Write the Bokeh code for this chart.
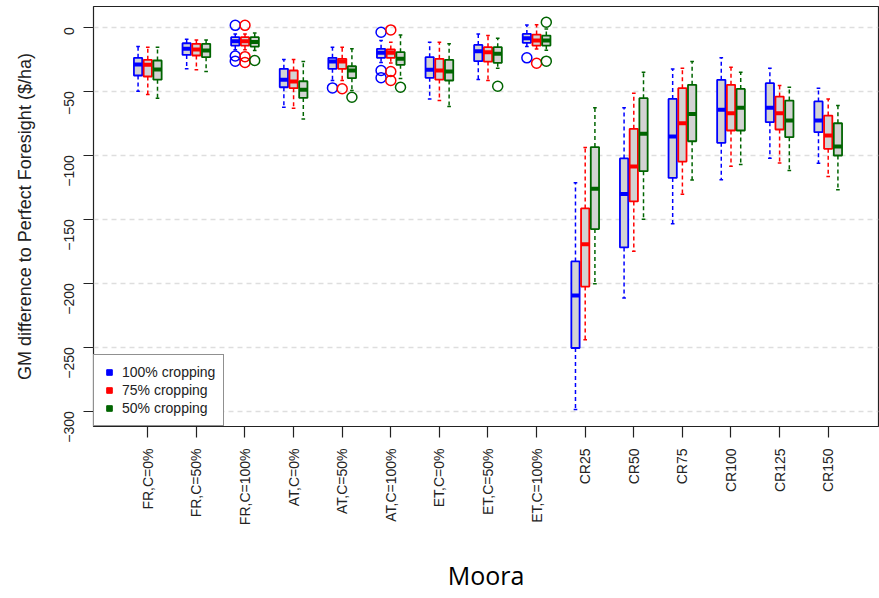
import math
from bokeh.plotting import figure
from bokeh.models import FixedTicker, Legend, LegendItem, ColumnDataSource, Range1d
from bokeh.embed import file_html
from bokeh.resources import INLINE

groups = ["FR,C=0%", "FR,C=50%", "FR,C=100%", "AT,C=0%", "AT,C=50%", "AT,C=100%",
          "ET,C=0%", "ET,C=50%", "ET,C=100%", "CR25", "CR50", "CR75", "CR100", "CR125", "CR150"]

series_labels = ["100% cropping", "75% cropping", "50% cropping"]
series_colors = ["#0000FF", "#FF0000", "#006400"]

# 100% cropping
blue_hi = [-15.1, -9.4, -5.2, -25.2, -15.6, -10.4, -11.7, -5.2, 1.8, -121.5, -63, -32.6, -23.9, -32, -47.6]
blue_q3 = [-23.9, -12.5, -7.8, -32.5, -23.9, -16.9, -23.4, -13.8, -5.2, -183, -102.5, -56, -41.1, -43.7, -58]
blue_med = [-29.1, -16.9, -10.9, -41.1, -26.8, -20, -33.3, -18.7, -8.6, -209.6, -130.3, -85.4, -64.5, -63, -72.9]
blue_q1 = [-37.7, -21.6, -14.3, -46.9, -32.5, -23.9, -39.5, -26.5, -12.2, -250.6, -172, -117.7, -90.3, -74.2, -82]
blue_lo = [-50, -32.5, -17.5, -62.5, -41.6, -27.5, -56, -40.9, -15, -298.7, -211.5, -153.6, -119.2, -102.3, -106.2]
blue_out_group = [3, 3, 3, 5, 6, 6, 6, 9]
blue_out_value = [1.5, -22.5, -26.5, -47.4, -3.9, -33.8, -39.5, -23.9]

# 75% cropping
red_hi = [-15.6, -9.9, -5.2, -25.2, -15.6, -11.7, -11.7, -6.5, 2, -94, -51.5, -32, -31.2, -45.6, -56]
red_q3 = [-25.5, -13, -7.8, -33.8, -24.7, -17.4, -24.7, -15.6, -5.7, -141.6, -79.4, -47.6, -45, -54.2, -69]
red_med = [-29.4, -17.4, -10.9, -42.4, -26.8, -20, -33.8, -19.5, -10.4, -169.6, -108.8, -75, -67.2, -67.2, -84.6]
red_q1 = [-38.5, -22.1, -14.3, -47.6, -32.5, -23.9, -40.9, -26.8, -14.3, -202.6, -136.1, -105, -80.7, -79.9, -95]
red_lo = [-52.6, -33.3, -17.5, -63.3, -41.6, -28, -57.3, -41.6, -17, -244.2, -175, -130.5, -108.6, -106, -116.6]
red_out_group = [3, 3, 3, 5, 6, 6, 6, 9]
red_out_value = [1.5, -23, -27.5, -48.1, -2.1, -34.6, -41.6, -28.1]

# 50% cropping
green_hi = [-15.6, -9.9, -4.5, -26.8, -16.9, -6, -13, -8.6, -1.3, -63, -35.1, -26.8, -35.1, -46.9, -61.2]
green_q3 = [-26, -13, -7.8, -42.2, -30.5, -19.5, -25.5, -15.6, -6.5, -93.6, -55.4, -45, -48.2, -57.3, -75]
green_med = [-33, -18.2, -11.5, -48.9, -33.8, -24.7, -34.6, -20.8, -10.4, -126.2, -83.3, -67.7, -63, -72.9, -93.2]
green_q1 = [-41, -23.4, -15.1, -55.2, -39.8, -29.4, -41.6, -27.8, -14.3, -157.7, -112.5, -89.1, -80.7, -85.9, -100.2]
green_lo = [-55.5, -34.6, -18.2, -71.6, -49.5, -40, -62, -32, -18, -200.5, -150, -119.3, -107.3, -112, -127]
green_out_group = [3, 5, 6, 8, 9, 9]
green_out_value = [-26, -54.7, -46.9, -46.1, 3.9, -26.5]

y_ticks = [0, -50, -100, -150, -200, -250, -300]

series = [
    (blue_lo, blue_q1, blue_med, blue_q3, blue_hi, blue_out_group, blue_out_value),
    (red_lo, red_q1, red_med, red_q3, red_hi, red_out_group, red_out_value),
    (green_lo, green_q1, green_med, green_q3, green_hi, green_out_group, green_out_value),
]
offsets = [-0.2, 0.0, 0.2]
box_w = 0.17
cap_w = 0.075

FONT = "Liberation Sans"

p = figure(width=879, height=598, output_backend="svg", toolbar_location=None,
           x_range=Range1d(-0.117, 16.035), y_range=Range1d(-311.95, 16.2),
           min_border_left=93, min_border_right=1, min_border_top=6, min_border_bottom=172)
p.background_fill_color = "white"
p.border_fill_color = "white"
p.outline_line_color = "#222222"
p.outline_line_width = 1.2

p.xgrid.visible = False
p.ygrid.ticker = FixedTicker(ticks=y_ticks)
p.ygrid.grid_line_color = "#dedede"
p.ygrid.grid_line_dash = "5 4"
p.ygrid.grid_line_width = 1.3

legend_items = []
for k, (lo, q1, med, q3, hi, og, ov) in enumerate(series):
    col = series_colors[k]
    xs = [i + 1 + offsets[k] for i in range(len(groups))]
    src = ColumnDataSource(dict(
        x=xs, lo=lo, q1=q1, med=med, q3=q3, hi=hi,
        left=[x - box_w / 2 for x in xs], right=[x + box_w / 2 for x in xs],
        cl=[x - cap_w / 2 for x in xs], cr=[x + cap_w / 2 for x in xs],
    ))
    p.segment(x0="x", y0="q3", x1="x", y1="hi", source=src, line_color=col,
              line_width=1.5, line_dash="4 3")
    p.segment(x0="x", y0="q1", x1="x", y1="lo", source=src, line_color=col,
              line_width=1.5, line_dash="4 3")
    p.segment(x0="cl", y0="hi", x1="cr", y1="hi", source=src, line_color=col, line_width=1.5)
    p.segment(x0="cl", y0="lo", x1="cr", y1="lo", source=src, line_color=col, line_width=1.5)
    p.quad(left="left", right="right", bottom="q1", top="q3", source=src,
           fill_color="#d3d3d3", line_color=col, line_width=1.8)
    p.segment(x0="left", y0="med", x1="right", y1="med", source=src, line_color=col,
              line_width=4, line_cap="butt")
    osrc = ColumnDataSource(dict(x=[g + offsets[k] for g in og], y=ov))
    p.scatter(x="x", y="y", source=osrc, marker="circle", size=10, fill_color=None,
              line_color=col, line_width=1.5)
    # legend proxy: a single point placed outside the visible range
    r = p.scatter(x=[-1000], y=[-10000], marker="square", size=7, fill_color=col, line_color=col)
    legend_items.append(LegendItem(label=series_labels[k], renderers=[r]))

legend = Legend(items=legend_items, location="bottom_left", margin=0, padding=8,
                spacing=0, label_height=18, glyph_height=18, glyph_width=14,
                label_standoff=6, border_line_color="#222222", border_line_width=1.2,
                background_fill_color="white", background_fill_alpha=1.0,
                label_text_font=FONT, label_text_font_size="14px", label_text_color="#222222")
p.add_layout(legend, "center")

# y axis
yax = p.yaxis[0]
yax.ticker = FixedTicker(ticks=y_ticks)
yax.major_label_orientation = math.pi / 2
yax.major_label_text_font = FONT
yax.major_label_text_font_size = "14px"
yax.major_label_text_color = "#222222"
yax.major_tick_out = 10
yax.major_tick_in = 0
yax.minor_tick_out = 0
yax.minor_tick_in = 0
yax.major_tick_line_color = "#222222"
yax.major_tick_line_width = 1.2
yax.axis_line_color = None
yax.major_label_standoff = 14
yax.axis_label = "GM difference to Perfect Foresight ($/ha)"
yax.axis_label_text_font = FONT
yax.axis_label_text_font_style = "normal"
yax.axis_label_text_font_size = "18px"
yax.axis_label_text_color = "#222222"
yax.axis_label_standoff = 22

# x axis
xax = p.xaxis[0]
xax.ticker = FixedTicker(ticks=list(range(1, len(groups) + 1)))
xax.major_label_overrides = {i + 1: g for i, g in enumerate(groups)}
xax.major_label_orientation = math.pi / 2
xax.major_label_text_font = FONT
xax.major_label_text_font_size = "14px"
xax.major_label_text_color = "#222222"
xax.major_tick_out = 11
xax.major_tick_in = 0
xax.minor_tick_out = 0
xax.minor_tick_in = 0
xax.major_tick_line_color = "#222222"
xax.major_tick_line_width = 1.2
xax.axis_line_color = None
xax.major_label_standoff = 11
xax.axis_label = "Moora"
xax.axis_label_text_font = "Open Sans"
xax.axis_label_text_font_style = "normal"
xax.axis_label_text_font_size = "25px"
xax.axis_label_text_color = "black"
xax.axis_label_standoff = 30

open("out.html", "w").write(file_html(p, INLINE))
